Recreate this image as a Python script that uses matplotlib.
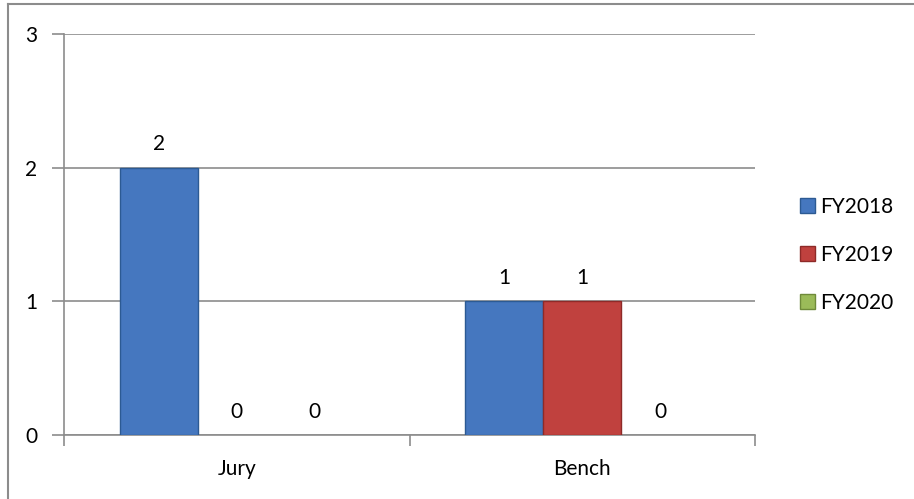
import matplotlib
matplotlib.use("Agg")
import matplotlib.pyplot as plt
import numpy as np
from matplotlib.lines import Line2D
from matplotlib.patches import Patch

categories = ["Jury", "Bench"]
series = ["FY2018", "FY2019", "FY2020"]
fy2018 = [2, 1]
fy2019 = [0, 1]
fy2020 = [0, 0]
values = [fy2018, fy2019, fy2020]
colors = ["#4577bf", "#c0413e", "#9bbb59"]
edges = ["#2c5a93", "#8e2a28", "#6f8a3a"]
yticks = [0, 1, 2, 3]

plt.rcParams['font.family'] = ['Lato', 'DejaVu Sans']
FS = 15
fig = plt.figure(figsize=(9.14, 4.99), dpi=100)
ax = fig.add_axes([64/914, 1-435/499, (755-64)/914, (435-34)/499])

width = 0.226
x = np.arange(len(categories))
for i, (vals, c, e) in enumerate(zip(values, colors, edges)):
    pos = x + (i - 1) * width
    lws = [1.0 if v != 0 else 0 for v in vals]
    ax.bar(pos, vals, width, color=c, edgecolor=e, linewidth=lws, zorder=3, label=series[i])
    for p, v in zip(pos, vals):
        ax.text(p, v + 0.1, str(v), ha='center', va='bottom', fontsize=FS, color='black')

ax.set_xlim(-0.5, 1.5)
ax.set_ylim(0, 3)
ax.set_yticks(yticks)
ax.set_yticklabels([str(t) for t in yticks], fontsize=FS)
ax.yaxis.grid(True, color='#8c8c8c', linewidth=1.2, zorder=0)
ax.set_axisbelow(True)
ax.set_xticks([-0.5, 0.5, 1.5])
ax.set_xticklabels([])
ax.set_xticks(x, minor=True)
ax.set_xticklabels(categories, minor=True, fontsize=FS)
ax.tick_params(axis='x', which='major', length=8, width=1.2, color='#8c8c8c', direction='out')
ax.tick_params(axis='x', which='minor', length=0, pad=17)
ax.tick_params(axis='y', length=9, width=1.2, color='#8c8c8c', pad=10)
for s in ['top', 'right']:
    ax.spines[s].set_visible(False)
for s in ['left', 'bottom']:
    ax.spines[s].set_color('#8c8c8c')
    ax.spines[s].set_linewidth(1.2)

handles = [Patch(facecolor=c, edgecolor=e) for c, e in zip(colors, edges)]
fig.legend(handles, series, loc='upper left', bbox_to_anchor=(781/914, 1-178/499),
           frameon=False, fontsize=FS, handlelength=0.75, handleheight=0.75,
           handletextpad=0.25, labelspacing=1.35)

# outer border (left and top visible)
fig.add_artist(Line2D([8/914, 8/914], [0, 1-4/499], transform=fig.transFigure, color='#8c8c8c', linewidth=1.5))
fig.add_artist(Line2D([8/914, 1], [1-4/499, 1-4/499], transform=fig.transFigure, color='#8c8c8c', linewidth=1.5))

fig.savefig("out.png", dpi=100)
